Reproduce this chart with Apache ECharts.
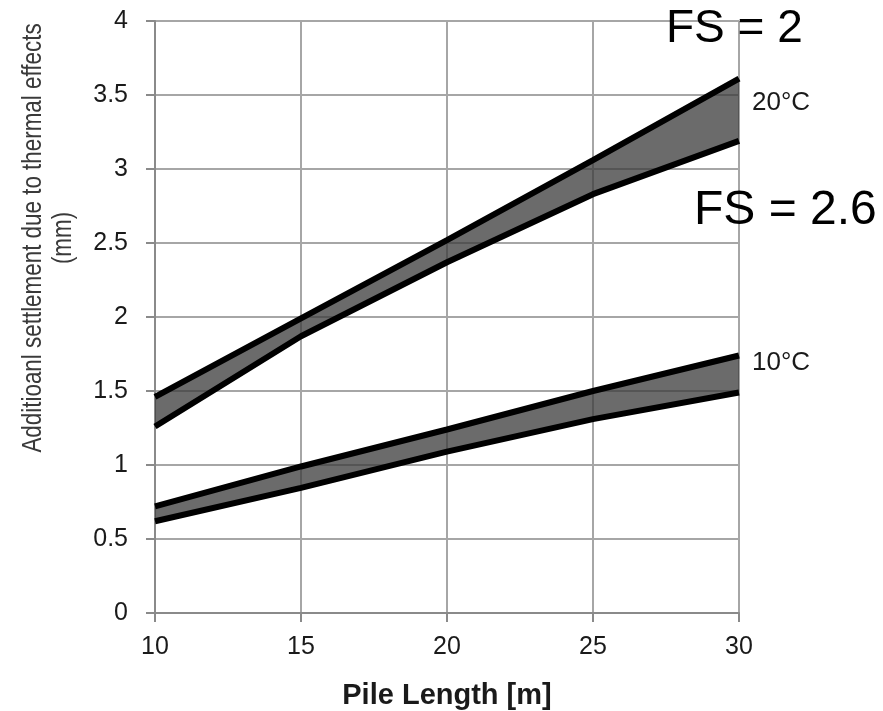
<!DOCTYPE html>
<html><head><meta charset="utf-8">
<script src="https://cdn.jsdelivr.net/npm/echarts@6/dist/echarts.min.js"></script>
<style>html,body{margin:0;padding:0;background:#fff}#c{width:883px;height:711px}</style>
</head><body><div id="c"></div>
<script>
const pileLength = ['10', '15', '20', '25', '30'];
const yTicks = [0, 0.5, 1, 1.5, 2, 2.5, 3, 3.5, 4];
const t20Upper = [1.46, 1.99, 2.52, 3.06, 3.61];
const t20Lower = [1.26, 1.87, 2.37, 2.83, 3.19];
const t10Upper = [0.72, 0.99, 1.24, 1.50, 1.74];
const t10Lower = [0.62, 0.845, 1.09, 1.31, 1.49];

const font = '"Liberation Sans", Arial, sans-serif';
const lineStyle = {color: '#000', width: 6, cap: 'butt'};
const fill = {color: '#3a3a3a', opacity: 0.75};

function band(lower, upper, key) {
  return [
    {type: 'line', stack: key, data: lower, symbol: 'none', lineStyle: lineStyle, z: 3, silent: true},
    {type: 'line', stack: key, data: upper.map((v, i) => +(v - lower[i]).toFixed(4)), symbol: 'none',
     lineStyle: lineStyle, areaStyle: fill, z: 3, silent: true}
  ];
}

const chart = echarts.init(document.getElementById('c'), null, {renderer: 'canvas'});
chart.setOption({
  animation: false,
  backgroundColor: '#fff',
  grid: {left: 155, right: 144, top: 21, bottom: 98, outerBoundsMode: 'none', containLabel: false},
  xAxis: {
    type: 'category', data: pileLength, boundaryGap: false,
    axisLine: {lineStyle: {color: '#8a8a8a', width: 2}},
    axisTick: {show: true, length: 9, lineStyle: {color: '#8a8a8a', width: 2}},
    axisLabel: {fontFamily: font, fontSize: 25, color: '#1a1a1a', margin: 22},
    splitLine: {show: true, lineStyle: {color: '#a6a6a6', width: 2}},
    name: 'Pile Length [m]', nameLocation: 'middle', nameGap: 68,
    nameTextStyle: {fontFamily: font, fontSize: 29, fontWeight: 'bold', color: '#1a1a1a'}
  },
  yAxis: {
    type: 'value', min: yTicks[0], max: yTicks[yTicks.length - 1], interval: 0.5,
    axisLine: {show: true, lineStyle: {color: '#8a8a8a', width: 2}},
    axisTick: {show: true, length: 9, lineStyle: {color: '#8a8a8a', width: 2}},
    axisLabel: {fontFamily: font, fontSize: 25, color: '#1a1a1a', margin: 27},
    splitLine: {show: true, lineStyle: {color: '#a6a6a6', width: 2}}
  },
  series: [].concat(band(t20Lower, t20Upper, 's20'), band(t10Lower, t10Upper, 's10')),
  graphic: [
    {type: 'text', x: 48, y: 238, rotation: Math.PI / 2, scaleX: 0.8, z: 10,
     style: {text: 'Additioanl settlement due to thermal effects\n(mm)', font: '28px ' + font,
             fill: '#3a3a3a', align: 'center', verticalAlign: 'middle', lineHeight: 30}},
    {type: 'text', x: 666, y: 29, z: 10,
     style: {text: 'FS = 2', font: '46px ' + font, fill: '#000', verticalAlign: 'middle'}},
    {type: 'text', x: 694, y: 211, z: 10,
     style: {text: 'FS = 2.6', font: '48px ' + font, fill: '#000', verticalAlign: 'middle'}},
    {type: 'text', x: 752, y: 103, z: 10,
     style: {text: '20°C', font: '26px ' + font, fill: '#1a1a1a', verticalAlign: 'middle'}},
    {type: 'text', x: 752, y: 363, z: 10,
     style: {text: '10°C', font: '26px ' + font, fill: '#1a1a1a', verticalAlign: 'middle'}}
  ]
});
</script></body></html>
